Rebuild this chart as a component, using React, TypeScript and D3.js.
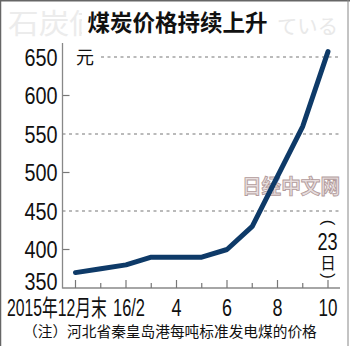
import React from "react";
import * as d3 from "d3";

const monthIdx = [0, 1, 2, 3, 4, 5, 6, 7, 8, 9, 10];
const prices = [370, 375, 380, 390, 390, 390, 400, 430, 495, 560, 657];
const gridValues = [450, 550, 650];
const tickValues = [400, 500, 600];
const yLabels = [350, 400, 450, 500, 550, 600, 650];
const xLabelMonths = [4, 6, 8, 10];
const title = "煤炭价格持续上升";
const watermarkLeft = "石炭価";
const watermarkRight = "ている";
const note = "（注）河北省秦皇岛港每吨标准发电煤的价格";

const CJK = "'Noto Sans CJK SC', 'Noto Sans', sans-serif";
const NUM = "'Liberation Sans', 'Noto Sans CJK SC', Arial, sans-serif";

export default function App() {
  const W = 350, H = 346;
  const x = d3.scaleLinear().domain([0, 10]).range([75.5, 328]);
  const y = d3.scaleLinear().domain([350, 650]).range([288, 57]);
  const line = d3.line<number>().x((_, i) => x(monthIdx[i])).y((d) => y(d)).curve(d3.curveLinear);
  const axisX = 62.5;
  const axisRight = 340;

  return (
    <svg width={W} height={H} style={{ position: "absolute", left: 0, top: 0, background: "#fff" }}>
      <defs>
        <clipPath id="wmclip">
          <rect x={0} y={0} width={82} height={45} />
        </clipPath>
      </defs>
      <rect x={0} y={0} width={W} height={H} fill="#fff" />
      {/* border */}
      <line x1={0.5} y1={0} x2={0.5} y2={H} stroke="#666" strokeWidth={1.5} />
      <line x1={0} y1={0.75} x2={W} y2={0.75} stroke="#666" strokeWidth={1.5} />
      <line x1={348} y1={0} x2={348} y2={H} stroke="#888" strokeWidth={1} />

      {/* faint japanese watermark */}
      <g clipPath="url(#wmclip)">
        <text x={8} y={34} fontFamily="'Noto Sans CJK JP', sans-serif" fontSize={28} fill="#ececec"
          textLength={92} lengthAdjust="spacingAndGlyphs">{watermarkLeft}</text>
      </g>
      <text x={277} y={34} fontFamily="'Noto Sans CJK JP', sans-serif" fontSize={20.5} fill="#e9e9e9"
        textLength={61} lengthAdjust="spacingAndGlyphs">{watermarkRight}</text>
      <text x={177.5} y={31} textAnchor="middle" fontFamily={CJK} fontWeight="bold" fontSize={22.5} fill="#111">{title}</text>

      {/* gridlines */}
      {gridValues.map((v) => (
        <line key={v} x1={v === 650 ? 101 : axisX} x2={axisRight} y1={y(v)} y2={y(v)}
          stroke="#777" strokeWidth={1.2} strokeDasharray="3,3.5" />
      ))}
      {tickValues.map((v) => (
        <line key={v} x1={axisX} x2={axisX + 7} y1={y(v)} y2={y(v)} stroke="#777" strokeWidth={1.2} />
      ))}
      {/* axes */}
      <line x1={axisX} x2={axisX} y1={43} y2={288.5} stroke="#888" strokeWidth={1.3} />
      <line x1={axisX} x2={axisRight} y1={288} y2={288} stroke="#888" strokeWidth={1.3} />
      {monthIdx.map((m) => (
        <line key={m} x1={x(m)} x2={x(m)} y1={m % 2 === 0 ? 280 : 283} y2={288} stroke="#777" strokeWidth={1.2} />
      ))}

      {/* y labels */}
      {yLabels.map((v, i) => (
        <text key={v} x={57.5} y={y(v) + (i === 0 ? 1.5 : 8.5)} textAnchor="end" fontFamily={NUM} fontSize={23} fill="#111"
          textLength={33} lengthAdjust="spacingAndGlyphs">{v}</text>
      ))}
      <text x={76} y={64} fontFamily={CJK} fontSize={18} fill="#111">元</text>

      {/* x labels */}
      <text transform="translate(7,316) scale(0.685,1)" fontFamily={NUM} fontSize={23} fill="#111">2015年12月末</text>
      <text transform="translate(113,316) scale(0.714,1)" fontFamily={NUM} fontSize={23} fill="#111">16/2</text>
      {xLabelMonths.map((m) => (
        <text key={m} transform={`translate(${x(m)},316) scale(${m >= 10 ? 0.74 : 0.78},1)`} textAnchor="middle" fontFamily={NUM} fontSize={23} fill="#111">{m}</text>
      ))}

      {/* vertical (23日) */}
      <g transform={`translate(${x(10)},222.5)`}>
        <text transform="rotate(90)" x={0} y={0} dominantBaseline="central" textAnchor="middle" fontFamily={NUM} fontSize={17} fill="#111">(</text>
      </g>
      <text transform={`translate(${x(10) - 0.5},249.5) scale(0.77,1)`} textAnchor="middle" fontFamily={NUM} fontSize={23.5} fill="#111">23</text>
      <text x={x(10)} y={269} textAnchor="middle" fontFamily={NUM} fontSize={15.5} fill="#111">日</text>
      <g transform={`translate(${x(10)},276)`}>
        <text transform="rotate(90)" x={0} y={0} dominantBaseline="central" textAnchor="middle" fontFamily={NUM} fontSize={17} fill="#111">)</text>
      </g>

      {/* watermark */}
      <text x={242} y={194} fontFamily={CJK} fontWeight="bold" fontSize={20} fill="#e8dede" stroke="#b39c9c" strokeWidth={0.9}
        textLength={98} lengthAdjust="spacingAndGlyphs">日经中文网</text>

      {/* data line */}
      <path d={line(prices) || ""} fill="none" stroke="#0e3a68" strokeWidth={5} strokeLinejoin="round" strokeLinecap="round" />

      {/* note */}
      <text x={23} y={337} fontFamily={CJK} fontSize={14.7} fill="#111">{note}</text>
    </svg>
  );
}
